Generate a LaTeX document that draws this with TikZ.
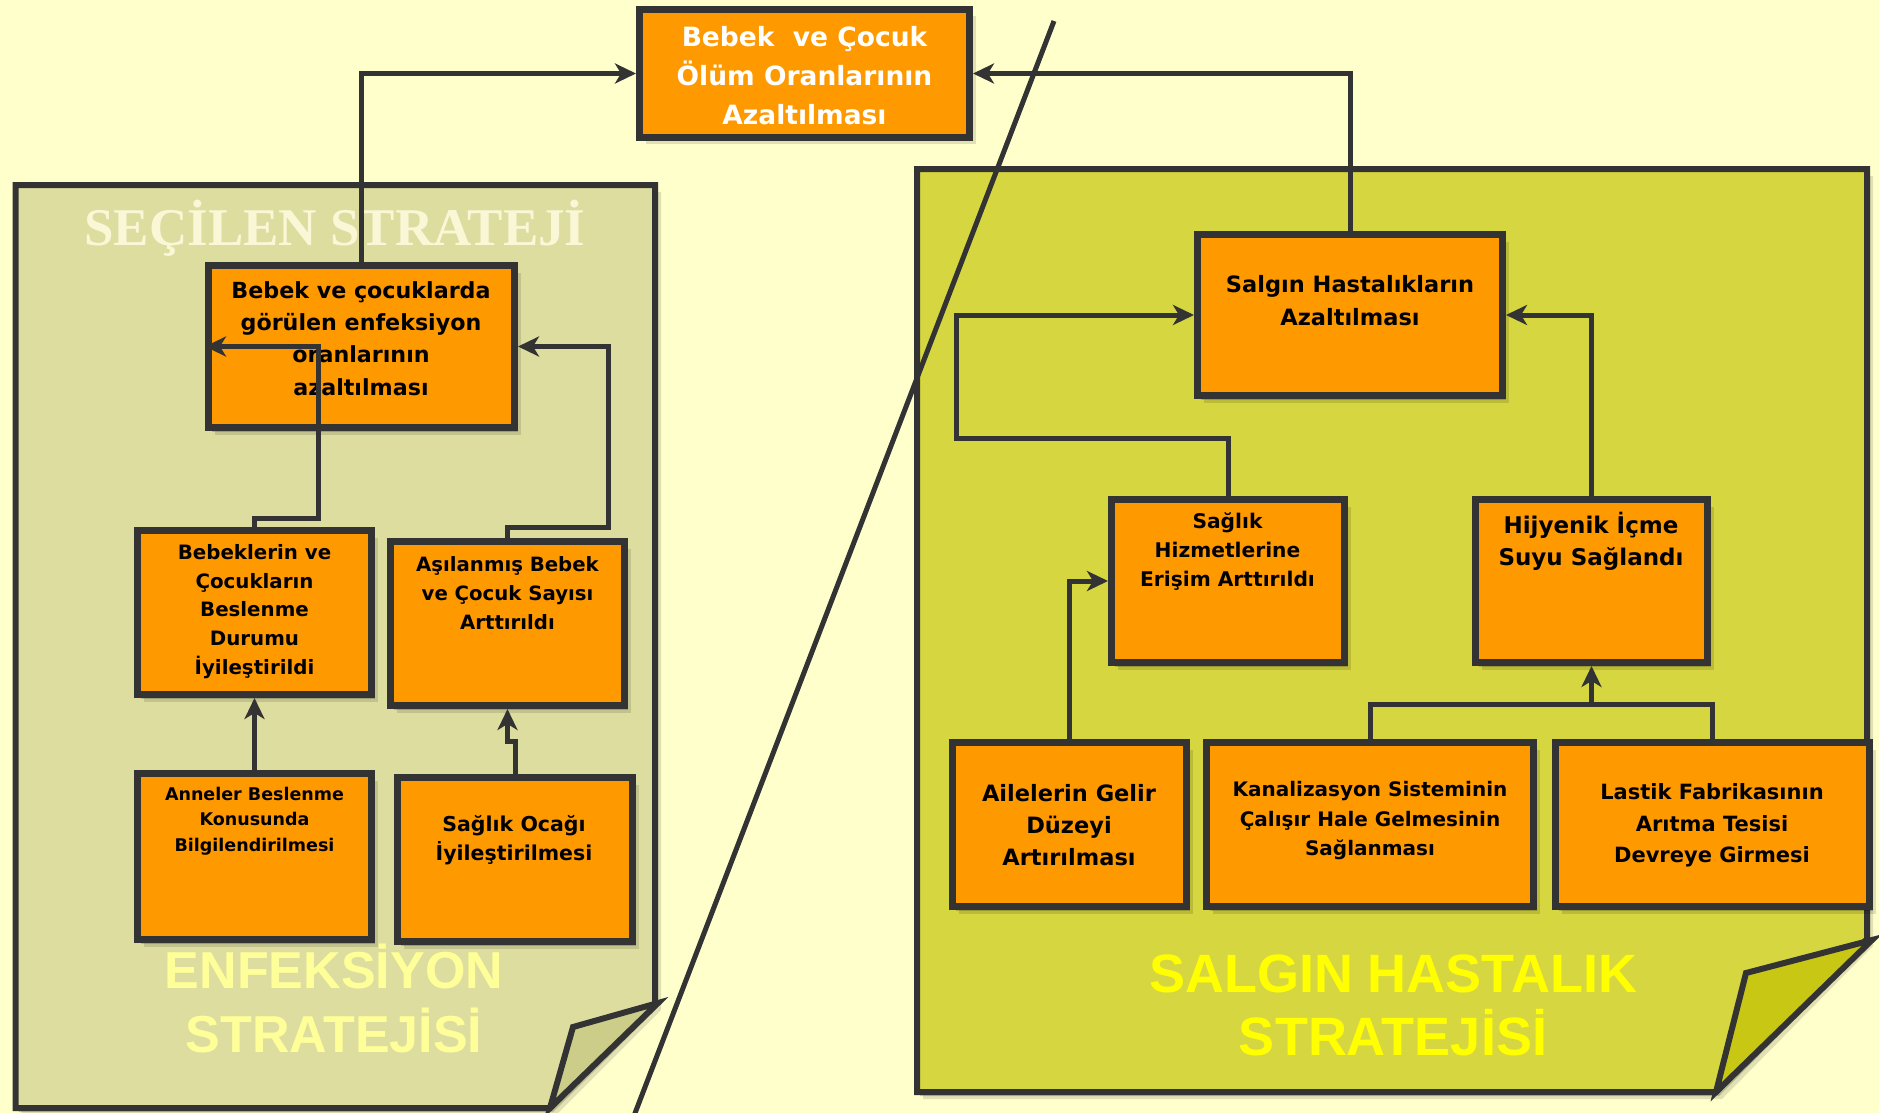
\documentclass[tikz,border=0pt]{standalone}
\usepackage{fontspec}
\setmainfont{DejaVu Sans}
\newfontfamily\serifT{Liberation Serif}
\newfontfamily\sansT{Liberation Sans}
\usetikzlibrary{arrows.meta,shadows}
\definecolor{bgc}{HTML}{FFFFCC}
\definecolor{panL}{HTML}{DDDDA0}
\definecolor{foldLc}{HTML}{CDCD8A}
\definecolor{panR}{HTML}{D6D640}
\definecolor{foldRc}{HTML}{C8C814}
\definecolor{orng}{HTML}{FF9900}
\definecolor{bord}{HTML}{333333}
\definecolor{cream}{HTML}{FAF7D7}
\definecolor{paley}{HTML}{FFFF99}
\definecolor{yel}{HTML}{FFFF00}
\tikzset{
  shd/.style={drop shadow={shadow xshift=3pt, shadow yshift=-4pt, opacity=0.18, fill=black},
              drop shadow={shadow xshift=6pt, shadow yshift=-7pt, opacity=0.12, fill=black}},
  box/.style={rectangle, draw=bord, fill=orng, line width=7pt, inner sep=0pt, shd},
  txt/.style={align=center, inner sep=0pt, text=black},
  conn/.style={draw=bord, line width=5pt},
  arr/.style={-{Stealth[length=21pt,width=20pt,inset=6pt]}},
  panel/.style={draw=bord, line width=6pt, shd},
  fold/.style={draw=bord, line width=6pt},
}
\begin{document}
\begin{tikzpicture}[x=1pt,y=-1pt]
\useasboundingbox (0,0) rectangle (1879,1113);
\fill[bgc] (0,0) rectangle (1879,1113);

% panels
\draw[panel, fill=panL] (15.5,185) -- (655,185) -- (655,1003) -- (550,1108) -- (15.5,1108) -- cycle;
\draw[fold, fill=foldLc] (550,1108) -- (573,1027) -- (658,1003) -- cycle;
\draw[panel, fill=panR] (917,169) -- (1867,169) -- (1867,939) -- (1716,1092) -- (917,1092) -- cycle;
\draw[fold, fill=foldRc] (1716,1092) -- (1746,973) -- (1872,940) -- cycle;

% panel titles
\node[inner sep=0pt, anchor=base, text=cream, font={\serifT\bfseries\fontsize{53}{60}\selectfont}] (secilen) at (335,245) {SEÇİLEN STRATEJİ};
\node[inner sep=0pt, anchor=base, text=paley, font={\sansT\bfseries\fontsize{52}{60}\selectfont}] (enf1) at (334,988) {ENFEKSİYON};
\node[inner sep=0pt, anchor=base, text=paley, font={\sansT\bfseries\fontsize{52}{60}\selectfont}] (enf2) at (334,1052) {STRATEJİSİ};
\node[inner sep=0pt, anchor=base, text=yel, font={\sansT\bfseries\fontsize{54}{60}\selectfont}] (sal1) at (1393,992) {SALGIN HASTALIK};
\node[inner sep=0pt, anchor=base, text=yel, font={\sansT\bfseries\fontsize{54}{60}\selectfont}] (sal2) at (1393,1055) {STRATEJİSİ};

% boxes
\node[box, minimum width=330, minimum height=128] (top) at (804.5,73.5) {};
\node[box, minimum width=306, minimum height=162] (inf) at (361.5,346.5) {};
\node[box, minimum width=234, minimum height=164] (beb) at (254.5,612.5) {};
\node[box, minimum width=234, minimum height=164] (asi) at (507.5,623.5) {};
\node[box, minimum width=234, minimum height=166] (ann) at (254.5,856.5) {};
\node[box, minimum width=235, minimum height=164] (soc) at (515,859.5) {};
\node[box, minimum width=305, minimum height=161] (sal) at (1350,315) {};
\node[box, minimum width=233, minimum height=163] (shz) at (1228,581) {};
\node[box, minimum width=232, minimum height=163] (hij) at (1591.5,581) {};
\node[box, minimum width=234, minimum height=164] (ail) at (1069.5,824.5) {};
\node[box, minimum width=327, minimum height=164] (kan) at (1370,824.5) {};
\node[box, minimum width=314, minimum height=164] (las) at (1712.5,824.5) {};

% box texts
\node[txt, text=white, font={\bfseries\fontsize{26.5}{39}\selectfont}] (t-top) at (804.5,76) {Bebek\ \ ve Çocuk\\Ölüm Oranlarının\\Azaltılması};
\node[txt, font={\bfseries\fontsize{22.2}{32.3}\selectfont}] (t-inf) at (361,338.5) {Bebek ve çocuklarda\\görülen enfeksiyon\\oranlarının\\azaltılması};
\node[txt, font={\bfseries\fontsize{19.8}{28.75}\selectfont}] (t-beb) at (254.5,611.5) {Bebeklerin ve\\Çocukların\\Beslenme\\Durumu\\İyileştirildi};
\node[txt, font={\bfseries\fontsize{19.7}{29}\selectfont}] (t-asi) at (507.5,593) {Aşılanmış Bebek\\ve Çocuk Sayısı\\Arttırıldı};
\node[txt, font={\bfseries\fontsize{17.5}{25.5}\selectfont}] (t-ann) at (254.5,821) {Anneler Beslenme\\Konusunda\\Bilgilendirilmesi};
\node[txt, font={\bfseries\fontsize{20.5}{29}\selectfont}] (t-soc) at (514,840.5) {Sağlık Ocağı\\İyileştirilmesi};
\node[txt, font={\bfseries\fontsize{22.5}{33}\selectfont}] (t-sal) at (1350,300.5) {Salgın Hastalıkların\\Azaltılması};
\node[txt, font={\bfseries\fontsize{20.2}{29}\selectfont}] (t-shz) at (1227.5,552) {Sağlık\\Hizmetlerine\\Erişim Arttırıldı};
\node[txt, font={\bfseries\fontsize{23}{32}\selectfont}] (t-hij) at (1591,541) {Hijyenik İçme\\Suyu Sağlandı};
\node[txt, font={\bfseries\fontsize{22.5}{32}\selectfont}] (t-ail) at (1069,825) {Ailelerin Gelir\\Düzeyi\\Artırılması};
\node[txt, font={\bfseries\fontsize{20}{29.5}\selectfont}] (t-kan) at (1370,821) {Kanalizasyon Sisteminin\\Çalışır Hale Gelmesinin\\Sağlanması};
\node[txt, font={\bfseries\fontsize{21}{31.5}\selectfont}] (t-las) at (1712,825.5) {Lastik Fabrikasının\\Arıtma Tesisi\\Devreye Girmesi};

% elbow coordinates
\coordinate (e3) at (318,518);
\coordinate (e4) at (608,527);
\coordinate (e6) at (507.5,741);
\coordinate (e7) at (956,438);
\coordinate (e10) at (1591.5,704);

% connectors
\draw[conn, arr] (inf.north) |- (top.west);
\draw[conn, arr] (sal.north) |- (top.east);
\draw[conn, arr] (beb.north) |- (e3) |- (inf.west);
\draw[conn, arr] (asi.north) |- (e4) |- (inf.east);
\draw[conn, arr] (ann.north) -- (beb.south);
\draw[conn, arr] (soc.north) |- (e6) -- (asi.south);
\draw[conn, arr] (shz.north) |- (e7) |- (sal.west);
\draw[conn, arr] (hij.north) |- (sal.east);
\draw[conn, arr] (ail.north) |- (shz.west);
\draw[conn] (kan.north) |- (e10) -| (las.north);
\draw[conn, arr] (e10) -- (hij.south);

% diagonal divider
\coordinate (d1) at (1054,21);
\coordinate (d2) at (632,1121);
\draw[draw=bord, line width=5pt] (d1) -- (d2);
\end{tikzpicture}
\end{document}
